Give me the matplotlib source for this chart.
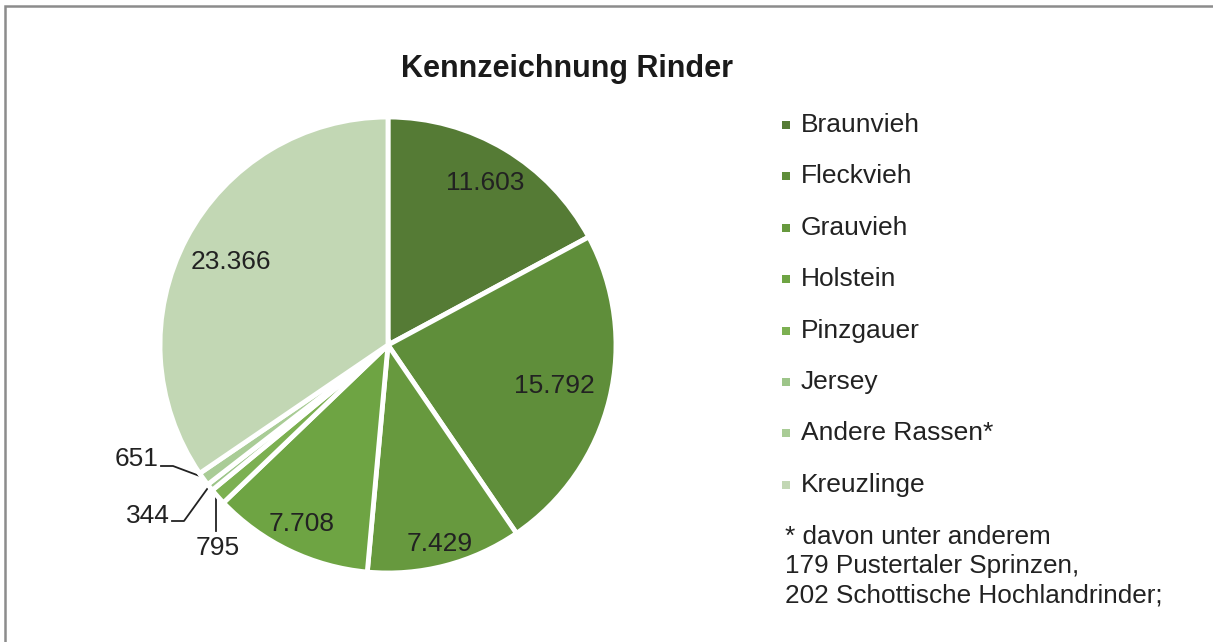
"""Kennzeichnung Rinder - pie chart."""

import matplotlib.pyplot as plt
import numpy as np
from matplotlib.patches import Rectangle

plt.rcParams["font.family"] = ["Liberation Sans", "DejaVu Sans"]

breeds = ["Braunvieh", "Fleckvieh", "Grauvieh", "Holstein", "Pinzgauer", "Jersey", "Andere Rassen*", "Kreuzlinge"]
counts = [11603, 15792, 7429, 7708, 795, 344, 651, 23366]
labels = ["11.603", "15.792", "7.429", "7.708", "795", "344", "651", "23.366"]
colors = ["#557b35", "#5f8e3a", "#67993e", "#6ea443", "#7cb051", "#9dc589", "#a9cc96", "#c2d7b4"]
note = ["* davon unter anderem", "179 Pustertaler Sprinzen,", "202 Schottische Hochlandrinder;"]

W, H = 1213, 642
fig = plt.figure(figsize=(W / 100, H / 100), dpi=100)
ax = fig.add_axes([0, 0, 1, 1])
ax.set_xlim(0, W)
ax.set_ylim(H, 0)
ax.axis("off")

# pie in its own axes so angles run clockwise from the top
cx, cy, R = 388, 345, 228
pax = fig.add_axes([(cx - R) / W, (H - cy - R) / H, 2 * R / W, 2 * R / H])
wedges, _ = pax.pie(
    counts,
    colors=colors,
    startangle=90,
    counterclock=False,
    radius=1.0,
    wedgeprops=dict(edgecolor="white", linewidth=3.5),
)
pax.set_xlim(-1, 1)
pax.set_ylim(-1, 1)
pax.set_aspect("equal")
pax.axis("off")

# inside labels (relative radius per slice, like Excel's best fit)
inside_r = {0: 0.83, 1: 0.75, 2: 0.90, 3: 0.87, 7: 0.78}
for i, r in inside_r.items():
    w = wedges[i]
    mid = np.deg2rad((w.theta1 + w.theta2) / 2)
    pax.text(r * np.cos(mid), r * np.sin(mid), labels[i], ha="center", va="center",
             fontsize=19, color="#222222")

# small slices with leader lines (pixel coords in the frame axes)
ax.text(158, 459, labels[6], ha="right", va="center", fontsize=19, color="#222222")
ax.plot([161, 173, 205], [466, 466, 478], color="#222222", lw=1.3)
ax.text(170, 516, labels[5], ha="right", va="center", fontsize=19, color="#222222")
ax.plot([172, 184, 210], [521, 521, 485], color="#222222", lw=1.3)
ax.text(218, 548, labels[4], ha="center", va="center", fontsize=19, color="#222222")
ax.plot([216, 216], [496, 531], color="#222222", lw=1.3)

ax.text(567, 69, "Kennzeichnung Rinder", ha="center", va="center", fontsize=22,
        fontweight="bold", color="#1a1a1a")

# legend
for k, (name, col) in enumerate(zip(breeds, colors)):
    y = 125 + k * 51.4
    ax.add_patch(Rectangle((782, y - 4), 8, 8, facecolor=col, edgecolor="none"))
    ax.text(801, y, name, ha="left", va="center", fontsize=19, color="#222222")

for k, line in enumerate(note):
    ax.text(785, 537 + k * 29, line, ha="left", va="center", fontsize=18.8, color="#222222")

# frame: top and left edges only are visible
ax.plot([5, 5, W], [H + 5, 6, 6], color="#8c8c8c", lw=1.8, solid_joinstyle="miter")

fig.savefig("out.png", dpi=100)
